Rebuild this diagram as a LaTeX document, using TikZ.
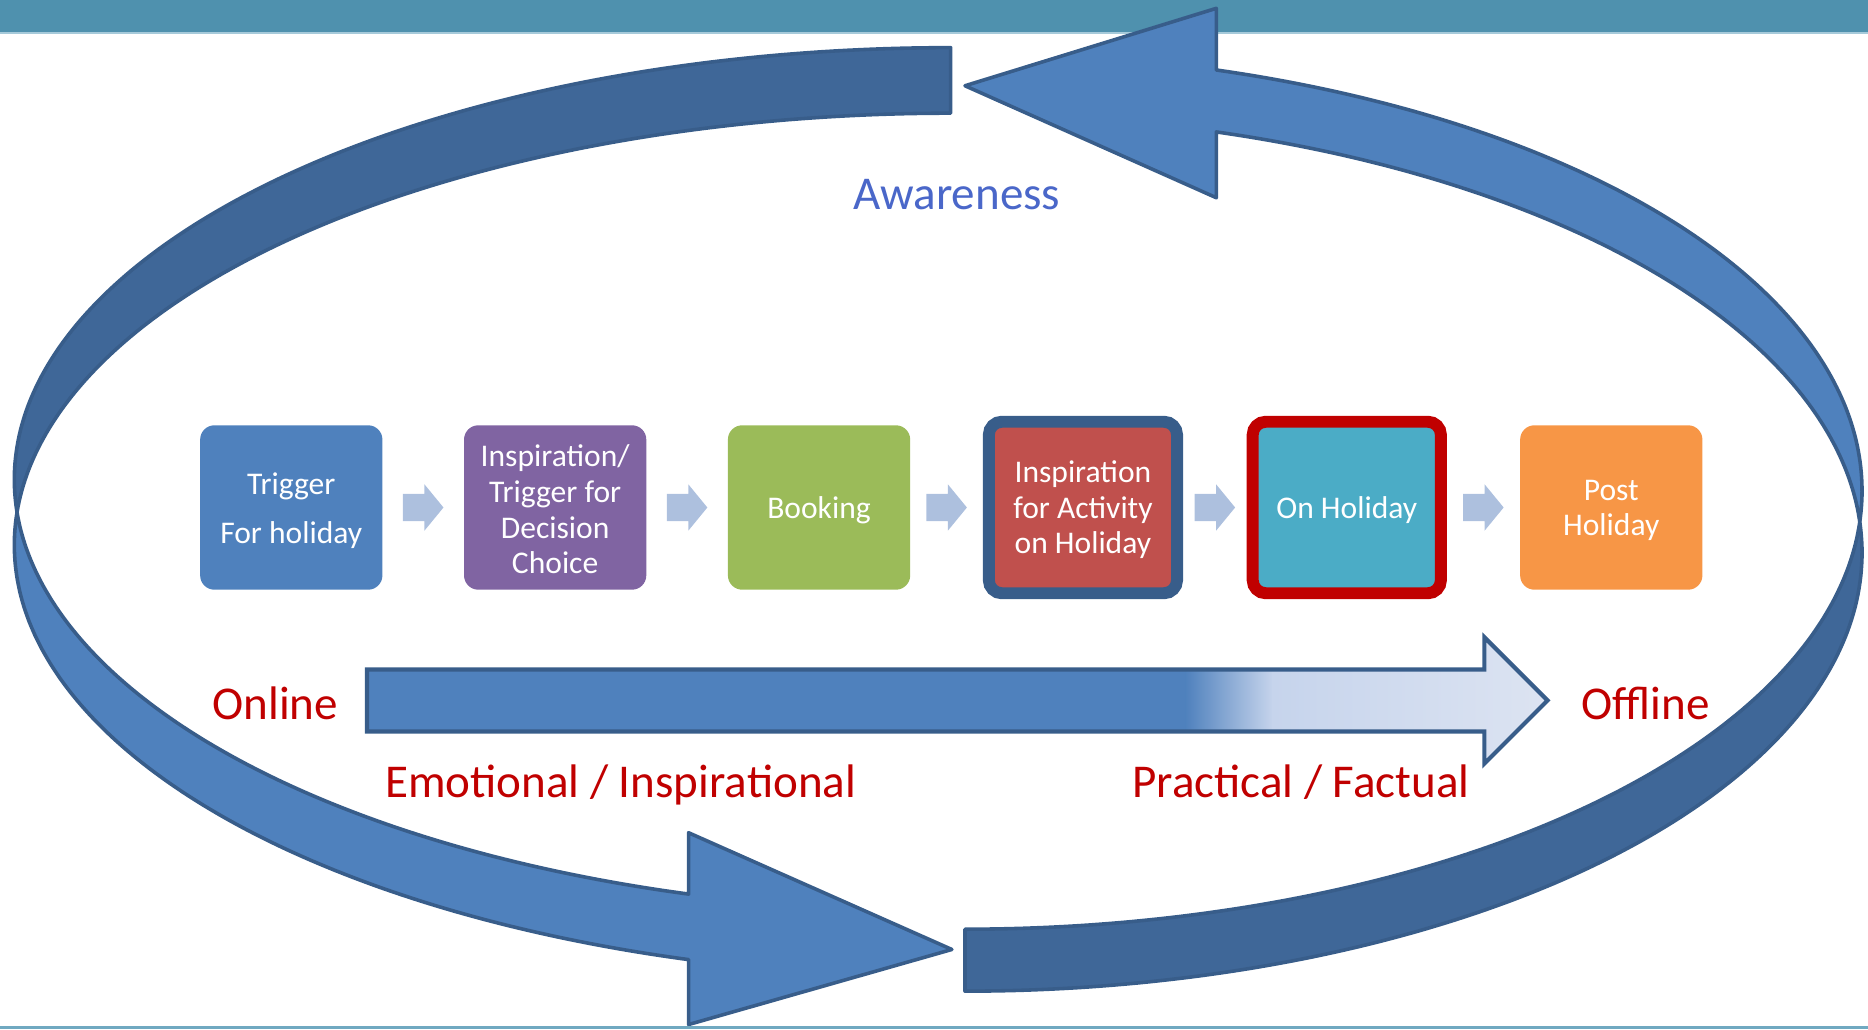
\documentclass[tikz,border=0pt]{standalone}
\usepackage{fontspec}
\setmainfont{Carlito}
\usetikzlibrary{calc}

\definecolor{barteal}{HTML}{4F91AE}
\definecolor{barlight}{HTML}{A6CADA}
\definecolor{rulelight}{HTML}{70A9C1}
\definecolor{bandlight}{HTML}{4F81BD}
\definecolor{banddark}{HTML}{3F6798}
\definecolor{bandline}{HTML}{385D8A}
\definecolor{fadeA}{HTML}{C6D4EC}
\definecolor{fadeB}{HTML}{DDE4F2}
\definecolor{chevcol}{HTML}{ADC0DE}
\definecolor{stepblue}{HTML}{4F81BD}
\definecolor{steppurple}{HTML}{8064A2}
\definecolor{stepgreen}{HTML}{9BBB59}
\definecolor{stepred}{HTML}{C0504D}
\definecolor{stepteal}{HTML}{4BACC6}
\definecolor{steporange}{HTML}{F79646}
\definecolor{frameblue}{HTML}{385D8A}
\definecolor{framered}{HTML}{C00000}
\definecolor{labelred}{HTML}{C00000}
\definecolor{labelblue}{HTML}{4A67C9}

\tikzset{
  band/.style={draw=bandline, line width=3pt, line join=round, samples=120},
  stepbox/.style={rounded corners=12pt, minimum width=153pt, minimum height=138pt,
    inner sep=0pt},
  framedbox/.style={stepbox, minimum width=158pt, minimum height=144pt,
    rounded corners=11pt, line width=10pt},
  steptext/.style={inner sep=0pt, align=center, text=white,
    font=\fontsize{26.5}{30}\selectfont},
  biglabel/.style={anchor=base, inner sep=0pt, font=\fontsize{39.5}{46}\selectfont},
  chev/.pic={\fill[chevcol] (-17,-11.5) -- (1,-11.5) -- (1,-19.5) -- (17,0)
      -- (1,19.5) -- (1,11.5) -- (-17,11.5) -- cycle;}
}

\begin{document}
\begin{tikzpicture}[x=1pt,y=1pt]
\useasboundingbox (0,0) rectangle (1568,864);

% title banner
\fill[barteal] (0,836) rectangle (1568,864);
\draw[barlight, line width=1.5pt] (0,836) -- (1568,836);

% left curved arrow: back face (top-left) and front face with head (bottom)
\path[band, fill=banddark]
  plot[domain=90:184.35] ({798+786*cos(\x)},{461.5+362.5*sin(\x)})
  -- plot[domain=175.65:90] ({798+786*cos(\x)},{406.5+362.5*sin(\x)})
  -- cycle;
\path[band, fill=bandlight]
  plot[domain=175.65:253.75] ({798+786*cos(\x)},{406.5+362.5*sin(\x)})
  -- (578,4) -- (799,67) -- (578,165)
  -- plot[domain=253.75:184.35] ({798+786*cos(\x)},{461.5+362.5*sin(\x)})
  -- cycle;

% right curved arrow: back face (bottom-right) and front face with head (top)
\path[band, fill=banddark]
  plot[domain=-90:4.05] ({810+753*cos(\x)},{400+368*sin(\x)})
  -- plot[domain=-4.05:-90] ({810+753*cos(\x)},{452+368*sin(\x)})
  -- cycle;
\path[band, fill=bandlight]
  plot[domain=-4.05:73.73] ({810+753*cos(\x)},{452+368*sin(\x)})
  -- (1021,857) -- (810,792) -- (1021,698)
  -- plot[domain=73.73:4.05] ({810+753*cos(\x)},{400+368*sin(\x)})
  -- cycle;

\node[biglabel, text=labelblue] (aware) at (803,688) {Awareness};

% process steps
\node[stepbox, fill=stepblue]   (s1) at (244.5,438) {};
\node[stepbox, fill=steppurple] (s2) at (466,438) {};
\node[stepbox, fill=stepgreen]  (s3) at (687.5,438) {};
\node[framedbox, draw=frameblue, fill=stepred] (s4) at (909,438) {};
\node[framedbox, draw=framered, fill=stepteal] (s5) at (1130.5,438) {};
\node[stepbox, fill=steporange] (s6) at (1352.5,438) {};

\node[steptext] (t1) at ([yshift=-2.5pt]s1.center) {Trigger\\[11pt]For holiday};
\node[steptext] (t2) at ([yshift=-1.5pt]s2.center) {Inspiration/\\Trigger for\\Decision\\Choice};
\node[steptext] (t3) at ([yshift=-2.5pt]s3.center) {Booking};
\node[steptext] (t4) at ([yshift=-2pt]s4.center) {Inspiration\\for Activity\\on Holiday};
\node[steptext] (t5) at ([yshift=-2.5pt]s5.center) {On Holiday};
\node[steptext] (t6) at ([yshift=-2.5pt]s6.center) {Post\\Holiday};

\foreach \a/\b in {s1/s2, s2/s3, s3/s4, s4/s5, s5/s6}
  \pic at ($(\a.east)!0.5!(\b.west)$) {chev};

% online -> offline arrow with fading fill
\begin{scope}
  \clip (308,302) -- (1246,302) -- (1246,329) -- (1299,276)
    -- (1246,223) -- (1246,250) -- (308,250) -- cycle;
  \fill[bandlight] (300,215) rectangle (995.5,340);
  \shade[left color=bandlight, right color=fadeA] (995,215) rectangle (1068.5,340);
  \shade[left color=fadeA, right color=fadeB] (1068,215) rectangle (1305,340);
\end{scope}
\draw[bandline, line width=3.5pt, line join=miter]
  (308,302) -- (1246,302) -- (1246,329) -- (1299,276)
  -- (1246,223) -- (1246,250) -- (308,250) -- cycle;

\node[biglabel, text=labelred] (online)  at (231,260)    {Online};
\node[biglabel, text=labelred] (offline) at (1381.5,260) {Offline};
\node[biglabel, text=labelred] (emo)     at (521,194.5)  {Emotional / Inspirational};
\node[biglabel, text=labelred] (fact)    at (1092,194.5) {Practical / Factual};

% bottom rule
\fill[rulelight] (0,0) rectangle (1568,3);
\end{tikzpicture}
\end{document}
